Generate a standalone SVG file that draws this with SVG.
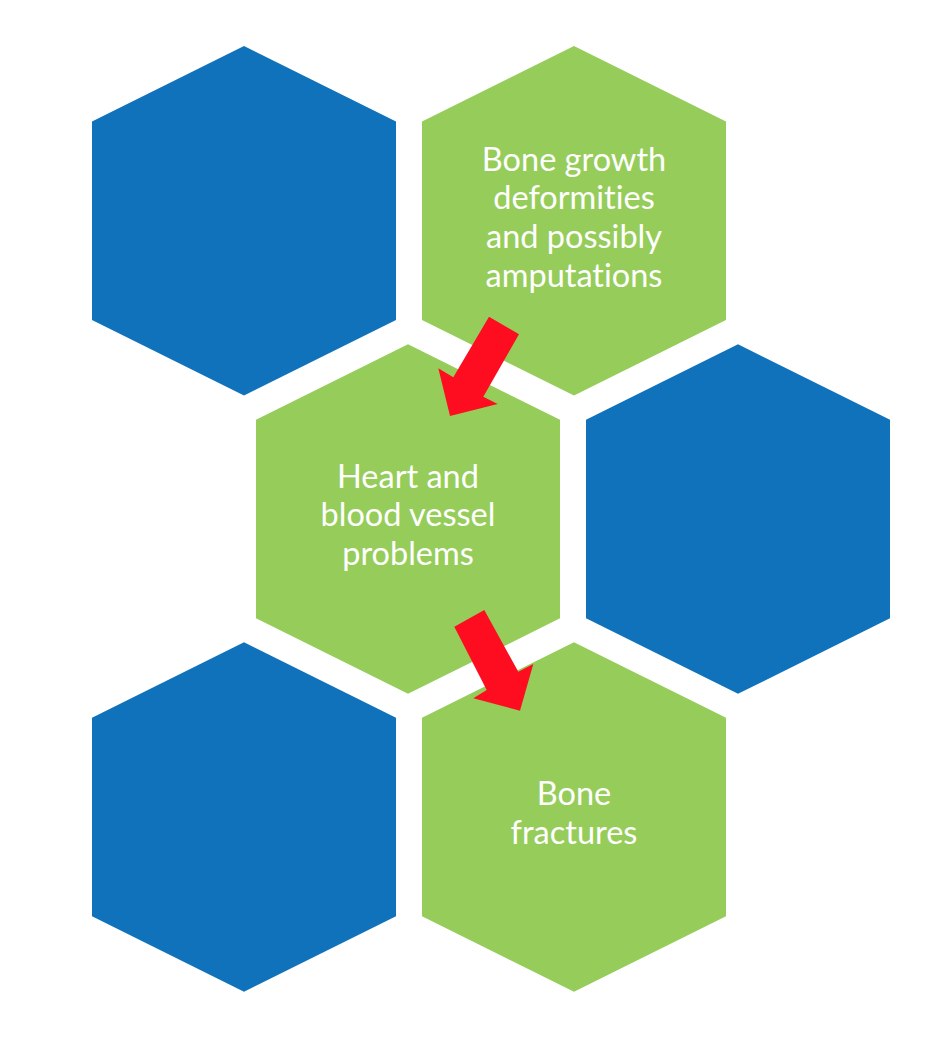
<svg xmlns="http://www.w3.org/2000/svg" xmlns:xlink="http://www.w3.org/1999/xlink" width="952" height="1050" viewBox="0 0 952 1050">
<style>
.blue{fill:#1172BC}
.green{fill:#96CD5A}
.arrow{fill:#FE0D20}
.lbl{font-family:Lato,"Open Sans","Liberation Sans",sans-serif;font-size:32.5px;fill:#FFFFFF;text-anchor:middle;font-variant-ligatures:none}
</style>
<defs>
<polygon id="hex" points="0,0 152,75.5 152,274 0,349.5 -152,274 -152,75.5"/>
</defs>
<rect width="952" height="1050" fill="#FFFFFF"/>
<g id="hex-top-left"><use xlink:href="#hex" x="244" y="46" class="blue"/></g>
<g id="node-bone-growth">
<use xlink:href="#hex" x="574" y="46" class="green"/>
<text class="lbl" x="574" y="170.7">Bone growth</text>
<text class="lbl" x="574" y="209.4">deformities</text>
<text class="lbl" x="574" y="248.1">and possibly</text>
<text class="lbl" x="574" y="286.8">amputations</text>
</g>
<g id="node-heart">
<use xlink:href="#hex" x="408" y="344.3" class="green"/>
<text class="lbl" x="408" y="487.7">Heart and</text>
<text class="lbl" x="408" y="526.4">blood vessel</text>
<text class="lbl" x="408" y="565.1">problems</text>
</g>
<g id="hex-mid-right"><use xlink:href="#hex" x="738" y="344.3" class="blue"/></g>
<g id="hex-bottom-left"><use xlink:href="#hex" x="244" y="642.3" class="blue"/></g>
<g id="node-fractures">
<use xlink:href="#hex" x="574" y="642.3" class="green"/>
<text class="lbl" x="574" y="805">Bone</text>
<text class="lbl" x="574" y="843.7">fractures</text>
</g>
<g id="connectors">
<polygon class="arrow" points="489,316.7 519,334.3 483.3,396.7 497.7,404 450,416 438.3,368.3 453.3,377.3"/>
<polygon class="arrow" points="454.3,626.7 484.3,610 518.3,671.7 533.3,664 520,710.7 473.3,698.3 486.7,690"/>
</g>
</svg>
